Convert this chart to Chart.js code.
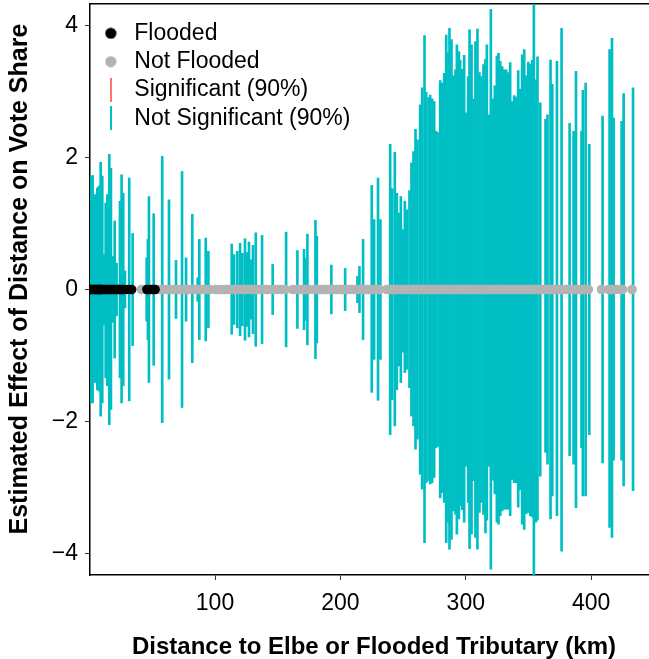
<!DOCTYPE html>
<html>
<head>
<meta charset="utf-8">
<script src="https://cdn.jsdelivr.net/npm/chart.js@4"></script>
<style>
  body { margin: 0; background: #fff; overflow: hidden; }
</style>
</head>
<body>
<canvas id="myChart" width="658" height="659"></canvas>
<script>
// distance (km) of each municipality, with its 90% CI for the effect
const distKm = [
  0.3, 0.9, 1.6, 2.4, 3.4, 4.2, 5.3, 6.0, 6.6, 7.3, 8.0, 8.7, 9.3, 10.6, 12.0, 13.3, 14.9, 16.2, 17.6, 19.2,
  20.7, 22.0, 23.4, 24.7, 26.0, 27.4, 30.8, 33.5, 41.3, 44.7, 45.7, 46.5, 48.2, 50.3, 52.2,
  55.0, 57.1, 59.5, 62.5, 65.0, 68.1, 70.5, 72.9, 76.1, 78.5, 81.1, 83.3, 85.4, 86.7, 89.3, 91.8, 93.9, 95.8,
  100.5, 103.0, 105.5, 108.0, 110.5, 112.5, 114.4, 117.0, 119.2, 121.0, 123.1, 124.5, 126.3, 127.9, 129.5,
  131.7, 134.2, 136.7, 139.2, 141.7, 145.2, 147.6, 150.0, 152.4, 155.9,
  162.0, 164.9, 167.5, 170.2, 171.0, 172.9, 175.0, 179.3, 180.4, 182.8, 185.3, 187.8, 190.0, 192.0, 194.5,
  197.0, 199.5, 201.5, 203.0, 205.5, 208.0, 210.5, 212.8, 214.4, 217.3, 219.7, 222.0, 224.2, 226.1, 229.2,
  231.1, 237.0,
  238.9, 240.5, 242.6, 244.2, 245.8, 247.4, 249.0, 250.6, 252.2, 254.3,
  255.9, 257.5, 259.1, 260.7, 262.8, 264.4, 266.3, 267.6, 269.5, 270.8,
  272.4, 274.0, 275.6, 277.4, 278.8, 280.4, 282.0, 283.6, 284.9, 286.2,
  287.8, 289.4, 291.0, 292.1, 293.7, 294.7, 296.3, 297.9, 299.5, 301.1,
  302.2, 303.8, 305.4, 306.9, 308.5, 310.1, 311.7, 313.3, 314.9, 316.0,
  317.6, 319.2, 320.8, 322.4, 324.0, 325.3, 326.7, 328.2, 329.8, 331.4,
  333.0, 334.6, 336.2, 337.8, 339.4, 341.0, 342.6, 344.2, 345.8, 347.4,
  349.0, 350.6, 352.2, 353.5, 355.1, 356.4, 358.6, 360.5, 362.8, 364.4,
  366.8, 368.2, 370.0, 371.9, 373.8, 375.6, 377.8, 379.9, 382.0, 385.2,
  387.1, 389.3, 391.5, 392.6, 394.8, 396.3, 397.7, 408.3, 413.9, 415.8,
  417.1, 419.5, 423.5, 425.1, 432.6
];
const ciHigh = [
  1.72, 1.29, 1.73, 1.35, 1.44, 1.10, 1.54, 1.20, 1.57, 0.95, 1.93, 1.25, 1.72, 0.53, 1.31, 1.44, 2.05, 1.84, 0.50, 1.04,
  0.40, 0.05, 1.34, 1.74, 1.46, 0.28, 1.69, 0.85, 0.05, 0.48, 0.76, 1.41, 0.05, 1.15, 0.05,
  0.05, 2.02, 0.05, 1.36, 0.05, 0.44, 0.05, 1.79, 0.48, 0.05, 1.14, 0.05, 0.18, 0.76, 0.05, 0.78, 0.58, 0.05,
  0.05, 0.05, 0.05, 0.05, 0.05, 0.69, 0.53, 0.58, 0.70, 0.55, 0.77, 0.56, 0.72, 0.45, 0.67,
  0.86, 0.05, 0.82, 0.05, 0.05, 0.38, 0.05, 0.05, 0.05, 0.87,
  0.05, 0.59, 0.05, 0.61, 0.47, 0.84, 0.05, 1.05, 0.81, 0.05, 0.05, 0.05, 0.05, 0.37, 0.05,
  0.05, 0.05, 0.05, 0.32, 0.05, 0.05, 0.05, 0.20, 0.35, 0.76, 0.05, 0.05, 1.58, 1.06, 1.69,
  1.06, 0.05,
  2.20, 1.53, 2.08, 1.46, 1.16, 1.41, 0.91, 1.34, 1.21, 1.50,
  1.92, 2.09, 2.43, 2.27, 2.80, 3.06, 3.85, 2.99, 2.91, 2.95,
  2.89, 2.85, 2.40, 2.38, 3.17, 3.13, 3.28, 3.86, 3.59, 3.96,
  3.79, 3.24, 3.33, 3.71, 3.61, 3.48, 3.34, 3.55, 2.68, 3.23,
  3.94, 3.71, 2.89, 3.76, 3.95, 3.29, 3.23, 3.41, 3.49, 3.71,
  2.65, 4.25, 2.89, 3.09, 3.54, 3.58, 3.46, 3.38, 3.33, 3.33,
  3.29, 3.44, 2.85, 2.94, 2.92, 3.32, 3.04, 3.56, 3.64, 3.24,
  3.45, 3.42, 3.48, 4.34, 3.18, 3.53, 2.83, 0.05, 2.58, 2.65,
  3.48, 3.11, 0.05, 3.46, 0.05, 3.96, 0.05, 0.05, 2.52, 2.40,
  3.31, 0.05, 2.40, 3.02, 3.13, 0.05, 2.20, 2.63, 3.64, 3.81,
  2.60, 0.05, 2.55, 2.97, 3.06
];
const ciLow = [
  -1.72, -1.26, -1.72, -1.30, -1.41, -1.15, -1.52, -1.20, -1.54, -0.90, -1.92, -1.22, -1.72, -0.53, -1.34, -1.46, -2.05, -1.82, -0.50, -1.04,
  -0.40, -0.05, -1.34, -1.72, -1.46, -0.28, -1.69, -0.85, -0.05, -0.48, -0.76, -1.41, -0.05, -1.15, -0.05,
  -0.05, -2.02, -0.05, -1.36, -0.05, -0.44, -0.05, -1.79, -0.48, -0.05, -1.11, -0.05, -0.18, -0.76, -0.05, -0.78, -0.58, -0.05,
  -0.05, -0.05, -0.05, -0.05, -0.05, -0.68, -0.53, -0.58, -0.70, -0.55, -0.77, -0.56, -0.72, -0.45, -0.67,
  -0.86, -0.05, -0.82, -0.05, -0.05, -0.38, -0.05, -0.05, -0.05, -0.87,
  -0.05, -0.59, -0.05, -0.61, -0.47, -0.84, -0.05, -1.05, -0.81, -0.05, -0.05, -0.05, -0.05, -0.37, -0.05,
  -0.05, -0.05, -0.05, -0.32, -0.05, -0.05, -0.05, -0.20, -0.35, -0.76, -0.05, -0.05, -1.56, -1.06, -1.68,
  -1.06, -0.05,
  -2.20, -1.67, -2.07, -1.52, -1.16, -1.41, -0.95, -1.26, -1.21, -1.49,
  -1.92, -2.07, -2.42, -2.27, -2.80, -3.03, -3.84, -2.93, -2.90, -2.95,
  -2.93, -2.85, -2.40, -2.38, -3.16, -3.08, -3.23, -3.84, -3.53, -3.94,
  -3.79, -3.36, -3.41, -3.71, -3.48, -3.28, -3.34, -3.53, -2.68, -3.23,
  -3.93, -3.71, -2.90, -3.76, -3.94, -3.38, -3.23, -3.41, -3.69, -3.50,
  -2.68, -4.24, -2.89, -3.10, -3.53, -3.56, -3.43, -3.36, -3.33, -3.33,
  -3.33, -3.43, -2.88, -2.93, -2.93, -3.30, -3.04, -3.56, -3.64, -3.40,
  -3.38, -3.43, -3.45, -4.34, -3.53, -3.50, -2.83, -0.05, -2.47, -2.65,
  -3.48, -3.13, -0.05, -3.43, -0.05, -3.97, -0.05, -0.05, -2.52, -2.65,
  -3.31, -0.05, -2.40, -3.13, -3.13, -0.05, -2.20, -2.63, -3.61, -3.76,
  -2.59, -0.05, -2.59, -2.98, -3.05
];
// places that were flooded
const floodedKm = [
  0.3, 0.9, 1.6, 2.4, 3.4, 4.2, 5.3, 6.0, 6.6, 7.3, 8.0, 8.7, 9.3, 10.6, 12.0, 13.3, 14.9, 16.2, 17.6, 19.2,
  20.7, 22.0, 23.4, 24.7, 26.0, 27.4, 30.8, 33.5, 45.7, 46.5, 48.2, 50.3, 52.2
];
const xTicks = [100, 200, 300, 400];
const yTicks = [-4, -2, 0, 2, 4];
const legendNames = ["Flooded", "Not Flooded", "Significant (90%)", "Not Significant (90%)"];

const ctx = document.getElementById("myChart");
const FONT = "'Liberation Sans', Arial, sans-serif";

const floodPts = [];
const dryPts = [];
const segments = [];
distKm.forEach((km, i) => {
  // point estimates all sit on zero
  if (floodedKm.includes(km)) floodPts.push({ x: km, y: 0 });
  else dryPts.push({ x: km, y: 0 });
  segments.push({ x: km, y: [ciLow[i], ciHigh[i]] });
});

function symbol(shape, color) {
  const c = document.createElement("canvas");
  const g = c.getContext("2d");
  if (shape == "dot") {
    c.width = 12;
    c.height = 12;
    g.fillStyle = color;
    g.beginPath();
    g.arc(6, 6, 5.6, 0, Math.PI * 2);
    g.fill();
  } else {
    c.width = 2;
    c.height = 24;
    g.fillStyle = color;
    g.fillRect(0, 0, 2, 24);
  }
  return c;
}
const legendSymbols = [
  symbol("dot", "#000000"),
  symbol("dot", "#B3B3B3"),
  symbol("line", "#F8766D"),
  symbol("line", "#00BFC4"),
];

// put the legend inside the panel, top left, where ggplot had it
const legendNudge = {
  id: "legendNudge",
  afterLayout(chart) {
    chart.legend.left = chart.chartArea.left + 3.5;
    chart.legend.top = chart.chartArea.top + 12.5;
  },
};

new Chart(ctx, {
  type: "scatter",
  data: {
    datasets: [
      { label: "Flooded", data: floodPts, backgroundColor: "#000000", pointRadius: 4.8, pointBorderWidth: 0 },
      { label: "Not Flooded", data: dryPts, backgroundColor: "#B3B3B3", pointRadius: 4.8, pointBorderWidth: 0 },
      { type: "bar", label: "Significant (90%)", data: [], backgroundColor: "#F8766D", barThickness: 2 },
      { type: "bar", label: "Not Significant (90%)", data: segments, backgroundColor: "#00BFC4", barThickness: 2 },
    ],
  },
  options: {
    responsive: false,
    animation: false,
    layout: { autoPadding: false, padding: { top: 4, left: 0, right: 0, bottom: 0 } },
    scales: {
      x: {
        type: "linear",
        position: "bottom",
        min: 0.3,
        max: 453.3,
        offset: false,
        afterBuildTicks: (s) => { s.ticks = xTicks.map((v) => ({ value: v })); },
        afterFit: (s) => {
          s.height = 84;
          s.paddingLeft = 0;
          s.paddingRight = 0;
        },
        ticks: { font: { family: FONT, size: 23 }, color: "#000", padding: 10, maxRotation: 0, autoSkip: false },
        grid: { drawOnChartArea: false, offset: false, tickLength: 5, color: "#333" },
        border: { color: "#000", width: 1.5 },
        title: {
          display: true,
          text: "Distance to Elbe or Flooded Tributary (km)",
          font: { family: FONT, size: 24, weight: "bold" },
          color: "#000",
          padding: { top: 0, bottom: -3 },
        },
      },
      x2: {
        type: "linear",
        position: "top",
        min: 0.3,
        max: 453.3,
        ticks: { display: false },
        grid: { display: false, drawTicks: false },
        border: { color: "#000", width: 1.5 },
      },
      y: {
        min: -4.33,
        max: 4.33,
        afterBuildTicks: (s) => { s.ticks = yTicks.map((v) => ({ value: v })); },
        afterFit: (s) => {
          s.width = 90;
          s.paddingTop = 0;
          s.paddingBottom = 0;
        },
        ticks: {
          font: { family: FONT, size: 23 },
          color: "#000",
          padding: 7,
          callback: (v) => (v < 0 ? "\u2212" + Math.abs(v) : String(v)),
        },
        grid: { drawOnChartArea: false, tickLength: 5, color: "#333" },
        border: { color: "#000", width: 1.5 },
        title: {
          display: true,
          // leading spaces nudge the title up a little, as in the original
          text: "   Estimated Effect of Distance on Vote Share",
          font: { family: FONT, size: 25, weight: "bold" },
          color: "#000",
          padding: { top: 5, bottom: 0 },
        },
      },
    },
    plugins: {
      tooltip: { enabled: false },
      legend: {
        position: "chartArea",
        align: "start",
        labels: {
          usePointStyle: true,
          pointStyleWidth: 24,
          padding: 5.3,
          font: { family: FONT, size: 23 },
          color: "#000",
          generateLabels: () =>
            legendNames.map((name, i) => ({
              text: name,
              pointStyle: legendSymbols[i],
              fillStyle: "transparent",
              strokeStyle: "transparent",
              lineWidth: 0,
              fontColor: "#000",
              hidden: false,
              datasetIndex: i,
            })),
        },
      },
    },
  },
  plugins: [legendNudge],
});
</script>
</body>
</html>
